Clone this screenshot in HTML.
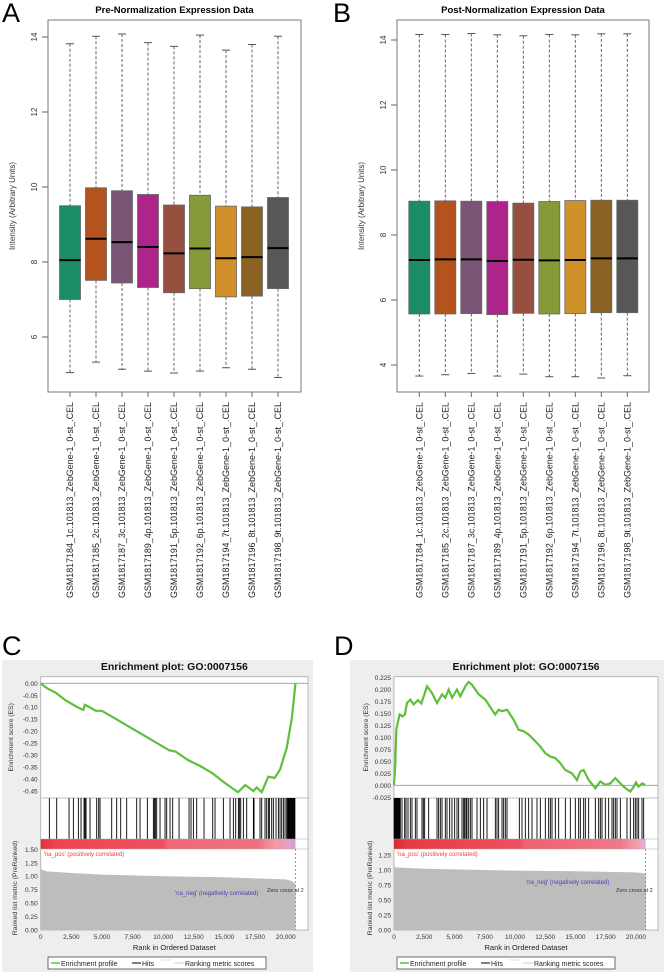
<!DOCTYPE html>
<html><head><meta charset="utf-8">
<style>
html,body{margin:0;padding:0;background:#fff;}
svg{display:block;font-family:"Liberation Sans",sans-serif;}
</style></head>
<body>
<svg id="fig" width="664" height="972" viewBox="0 0 664 972" xmlns="http://www.w3.org/2000/svg"></svg>
<script>
// ---------- DATA ----------
const samples = ["GSM1817184_1c","GSM1817185_2c","GSM1817187_3c","GSM1817189_4p","GSM1817191_5p","GSM1817192_6p","GSM1817194_7t","GSM1817196_8t","GSM1817198_9t"];
const boxColors = ["#1a8c68","#b5531f","#7a5575","#ad248a","#975040","#879a3a","#d0912c","#8a6224","#575757"];
const preLow  = [5.05,5.33,5.14,5.09,5.04,5.09,5.18,5.14,4.92];
const preQ1   = [7.00,7.51,7.44,7.32,7.18,7.29,7.07,7.09,7.29];
const preMed  = [8.05,8.62,8.53,8.40,8.23,8.36,8.10,8.13,8.37];
const preQ3   = [9.50,9.98,9.90,9.80,9.52,9.78,9.49,9.47,9.72];
const preHigh = [13.82,14.02,14.08,13.85,13.75,14.05,13.65,13.80,14.02];
const postLow  = [3.66,3.70,3.74,3.66,3.72,3.64,3.64,3.60,3.67];
const postQ1   = [5.57,5.57,5.58,5.55,5.59,5.57,5.58,5.61,5.61];
const postMed  = [7.23,7.25,7.25,7.20,7.24,7.22,7.23,7.28,7.28];
const postQ3   = [9.04,9.05,9.04,9.03,8.98,9.03,9.06,9.07,9.07];
const postHigh = [14.17,14.17,14.20,14.16,14.13,14.17,14.16,14.19,14.19];
const preTicks = [6,8,10,12,14];
const postTicks = [4,6,8,10,12,14];

const rankTicks = [0,2500,5000,7500,10000,12500,15000,17500,20000];
const cRanks = [0,500,1250,2000,3000,3480,3600,4000,4500,5000,5500,6500,7500,8500,9500,10500,11000,12000,13000,14000,15000,16100,16700,17360,17630,18040,18580,19100,19540,20080,20490,20800];
const cES    = [0,-0.02,-0.04,-0.07,-0.10,-0.111,-0.09,-0.10,-0.115,-0.115,-0.13,-0.16,-0.19,-0.22,-0.25,-0.28,-0.285,-0.32,-0.345,-0.375,-0.415,-0.455,-0.425,-0.45,-0.435,-0.455,-0.39,-0.395,-0.36,-0.27,-0.15,0];
const cHits = [707,1306,2313,2667,3075,3293,3537,3619,3701,4027,4571,4735,4844,5796,6204,6531,7020,7837,8109,8707,9197,9279,9361,9469,9741,10150,10286,10558,10776,11293,12109,12272,12463,12735,13333,14041,14231,14912,15456,15728,15918,16136,16218,16327,16544,16816,17361,17415,17905,18041,18313,18449,18585,18667,18857,18993,19211,19401,19537,19673,19810,19946,20082,20150,20200,20250,20300,20350,20400,20450,20500,20550,20600,20650,20700,20750];
const cMetRanks = [0,100,500,2500,5000,10000,15000,20000,20500,20800];
const cMetVals  = [1.17,1.12,1.09,1.06,1.03,1.0,0.98,0.94,0.91,0.85];
const cESTicks = [0,-0.05,-0.10,-0.15,-0.20,-0.25,-0.30,-0.35,-0.40,-0.45];
const cMetTicks = [0,0.25,0.5,0.75,1.0,1.25,1.5];

const dRanks = [0,110,190,300,470,700,900,1070,1350,1625,1980,2260,2730,3140,3550,3970,4240,4520,4800,5200,5480,5900,6170,6450,7000,7550,8100,8370,8650,8930,9340,9890,10300,10720,11130,11680,12090,12510,12920,13330,13750,14160,14710,15120,15400,15670,16090,16640,17050,17470,17880,18290,18710,19120,19530,19810,20000,20220,20500,20770];
const dES    = [0,0.046,0.116,0.13,0.148,0.144,0.148,0.172,0.179,0.169,0.178,0.171,0.207,0.193,0.172,0.19,0.183,0.2,0.183,0.2,0.186,0.207,0.216,0.21,0.19,0.179,0.158,0.148,0.158,0.155,0.158,0.137,0.116,0.113,0.106,0.092,0.081,0.067,0.06,0.057,0.046,0.032,0.025,0.011,0.029,0.032,0.011,-0.006,0.008,0.001,0.004,0.015,0.004,-0.006,-0.013,-0.003,0.006,-0.003,0.004,0.001];
const dHits = [10,50,90,130,170,210,250,290,330,370,410,450,490,520,661,882,992,1157,1350,1488,1763,1901,2314,2424,2534,2865,3554,3691,3829,3967,4242,4380,4601,4793,5014,5207,5344,5620,5758,5840,5950,6033,6171,6309,6446,6860,7135,7410,7686,8375,8512,8650,8926,9063,9201,9339,10358,10579,10854,11129,11405,11818,12094,12507,12782,12920,13058,13333,13609,14160,14573,14986,15262,15399,15675,15813,16088,16639,16915,17052,17190,17466,17741,18017,18154,18292,18430,18705,19256,19532,19807,19945,20083,20220,20496,20634];
const dMetRanks = [0,100,500,2500,5000,10000,15000,20000,20800];
const dMetVals  = [1.05,1.045,1.04,1.02,1.01,0.99,0.98,0.96,0.94];
const dESTicks = [-0.025,0,0.025,0.05,0.075,0.1,0.125,0.15,0.175,0.2,0.225];
const dMetTicks = [0,0.25,0.5,0.75,1.0,1.25];

// ---------- HELPERS ----------
const NS="http://www.w3.org/2000/svg";
const svg=document.getElementById('fig');
function mk(tag,attrs,parent,text){const e=document.createElementNS(NS,tag);for(const k in attrs)e.setAttribute(k,attrs[k]);if(text!==undefined)e.textContent=text;(parent||svg).appendChild(e);return e;}

// panel letters
[["A",2,22],["B",333,22],["C",2,655],["D",334,655]].forEach(p=>{
  const t=mk('text',{x:p[1],y:p[2],'font-size':27,fill:'#000'},svg,p[0]);
  
  
});

function boxplot(cfg){
  const g=mk('g',{});
  
  
  const y=v=>cfg.y0-(v-cfg.v0)*cfg.k;
  const fr=mk('rect',{x:cfg.L,y:cfg.T,width:cfg.R-cfg.L,height:cfg.B-cfg.T,fill:'none',stroke:'#777','stroke-width':1},g);
  
  const tt=mk('text',{x:(cfg.L+cfg.R)/2,y:13,'text-anchor':'middle','font-size':9.5,'font-weight':'bold'},g,cfg.title);
  
  const yl=mk('text',{x:0,y:0,'text-anchor':'middle','font-size':8,fill:'#333',transform:`translate(${cfg.L-33},${cfg.labY}) rotate(-90)`},g,'Intensity (Arbitrary Units)');
  
  cfg.ticks.forEach(v=>{
    mk('line',{x1:cfg.L-6,x2:cfg.L,y1:y(v),y2:y(v),stroke:'#666'},g);
    const tl=mk('text',{x:0,y:0,'text-anchor':'middle','font-size':8,fill:'#333',transform:`translate(${cfg.L-11},${y(v)}) rotate(-90)`},g,String(v));
    
  });
  samples.forEach((s,i)=>{
    const cx=cfg.c0+i*cfg.dx, w=21;
    const bg=mk('g',{},g);
    
    mk('line',{x1:cx,x2:cx,y1:y(cfg.high[i]),y2:y(cfg.q3[i]),stroke:'#555','stroke-dasharray':'3,2','stroke-width':0.9},bg);
    mk('line',{x1:cx,x2:cx,y1:y(cfg.q1[i]),y2:y(cfg.low[i]),stroke:'#555','stroke-dasharray':'3,2','stroke-width':0.9},bg);
    mk('line',{x1:cx-4,x2:cx+4,y1:y(cfg.high[i]),y2:y(cfg.high[i]),stroke:'#555'},bg);
    mk('line',{x1:cx-4,x2:cx+4,y1:y(cfg.low[i]),y2:y(cfg.low[i]),stroke:'#555'},bg);
    mk('rect',{x:cx-w/2,y:y(cfg.q3[i]),width:w,height:y(cfg.q1[i])-y(cfg.q3[i]),fill:boxColors[i],stroke:'#666','stroke-width':0.8},bg);
    mk('line',{x1:cx-w/2,x2:cx+w/2,y1:y(cfg.med[i]),y2:y(cfg.med[i]),stroke:'#000','stroke-width':2},bg);
    mk('line',{x1:cx,x2:cx,y1:cfg.B,y2:cfg.B+5,stroke:'#666'},g);
    const lab=mk('text',{x:0,y:0,'text-anchor':'end','font-size':9,fill:'#222',textLength:196,lengthAdjust:'spacingAndGlyphs',transform:`translate(${cx+3},${cfg.B+10}) rotate(-90)`},g,s+'.101813_ZebGene-1_0-st_.CEL');
    
  });
}
boxplot({name:'boxplot-pre-normalization',title:'Pre-Normalization Expression Data',L:48,R:301,T:20,B:392,y0:262,v0:8,k:37.5,c0:70,dx:26,labY:206,ticks:preTicks,low:preLow,q1:preQ1,med:preMed,q3:preQ3,high:preHigh});
boxplot({name:'boxplot-post-normalization',title:'Post-Normalization Expression Data',L:397,R:649,T:20,B:392,y0:40,v0:14,k:32.5,c0:419.3,dx:26,labY:206,ticks:postTicks,low:postLow,q1:postQ1,med:postMed,q3:postQ3,high:postHigh});

function gsea(c){
  const g=mk('g',{});
  
  mk('rect',{x:c.bgL,y:660,width:c.bgR-c.bgL,height:312,fill:'#eeeeee'},g);
  const X=r=>c.L+r/20000*(c.x20-c.L);
  const Y=v=>c.esY0-(v-c.esV0)*c.esK;
  const M=v=>930-v*c.mK;
  const T1=676.7,T2=798,T3=839,T4=849,T5=930;
  const t=mk('text',{x:(c.L+c.R)/2,y:670,'text-anchor':'middle','font-size':10.5,'font-weight':'bold',fill:'#111'},g,'Enrichment plot: GO:0007156');
  
  mk('rect',{x:c.L,y:T1,width:c.R-c.L,height:T5-T1,fill:'#fff',stroke:'#aaa','stroke-width':0.8},g);
  mk('line',{x1:c.L,x2:c.R,y1:T2,y2:T2,stroke:'#aaa','stroke-width':0.8},g);
  // zero line
  mk('line',{x1:c.L,x2:c.R,y1:Y(0),y2:Y(0),stroke:'#999','stroke-width':0.8},g);
  c.esTicks.forEach(v=>{
    const tl=mk('text',{x:c.L-3,y:Y(v)+2.5,'text-anchor':'end','font-size':6.5,fill:'#333'},g,v.toFixed(c.dec));
    
  });
  const es=mk('polyline',{points:c.ranks.map((r,i)=>X(r)+','+Y(c.es[i])).join(' '),fill:'none',stroke:'#5fbf3a','stroke-width':2.2},g);
  
  const hg=mk('g',{},g);
  
  c.hits.forEach(h=>{const hl=mk('line',{x1:X(h),x2:X(h),y1:T2,y2:T3,stroke:'#000','stroke-width':0.9},hg);
    });
  const gid='grad'+c.name;
  const df=mk('defs',{},g);const lg=mk('linearGradient',{id:gid,x1:0,x2:1,y1:0,y2:0},df);
  c.grad.forEach(s=>mk('stop',{offset:s[0],'stop-color':s[1]},lg));
  const rb=mk('rect',{x:c.L,y:T3,width:X(20800)-c.L,height:T4-T3,fill:`url(#${gid})`},g);
  
  mk('line',{x1:c.L,x2:c.R,y1:T3,y2:T3,stroke:'#aaa','stroke-width':0.6},g);
  mk('line',{x1:c.L,x2:c.R,y1:T4,y2:T4,stroke:'#aaa','stroke-width':0.6},g);
  const pts=[c.L+','+M(0)].concat(c.mRanks.map((r,i)=>X(r)+','+M(c.mVals[i]))).concat([X(20800)+','+M(0)]);
  const ar=mk('polygon',{points:pts.join(' '),fill:'#bdbdbd'},g);
  
  mk('line',{x1:X(20800),x2:X(20800),y1:T4,y2:T5,stroke:'#777','stroke-dasharray':'2,2','stroke-width':0.7},g);
  c.mTicks.forEach(v=>{
    const tl=mk('text',{x:c.L-3,y:M(v)+2.5,'text-anchor':'end','font-size':6.5,fill:'#333'},g,v.toFixed(2));
    
  });
  rankTicks.forEach(r=>{
    const tl=mk('text',{x:X(r),y:939,'text-anchor':'middle','font-size':6.5,fill:'#333'},g,r.toLocaleString('en-US'));
    
  });
  const xt=mk('text',{x:(c.L+c.R)/2,y:950,'text-anchor':'middle','font-size':7.5,fill:'#222'},g,'Rank in Ordered Dataset');
  
  const y1=mk('text',{x:0,y:0,'text-anchor':'middle','font-size':6.8,fill:'#333',transform:`translate(${c.yl},${(T1+T2)/2}) rotate(-90)`},g,'Enrichment score (ES)');
  
  const y2=mk('text',{x:0,y:0,'text-anchor':'middle','font-size':6.8,fill:'#333',transform:`translate(${c.yl+4},${888}) rotate(-90)`},g,'Ranked list metric (PreRanked)');
  
  const p=mk('text',{x:c.L+3,y:856,'font-size':6,fill:'#e8404a'},g,"'na_pos' (positively correlated)");
  
  const n=mk('text',{x:c.negX,y:c.negY,'font-size':6,fill:'#4545b0'},g,"'na_neg' (negatively correlated)");
  
  const z=mk('text',{x:c.zX,y:892,'font-size':5.5,fill:'#333'},g,'Zero cross at 2');
  
  // legend
  const lgG=mk('g',{},g);
  
  const lx=c.legX;
  mk('rect',{x:lx,y:957,width:218,height:12,fill:'#fff',stroke:'#333','stroke-width':0.7},lgG);
  mk('line',{x1:lx+3,x2:lx+12,y1:963,y2:963,stroke:'#5fbf3a','stroke-width':1.5},lgG);
  const e1=mk('text',{x:lx+13,y:966,'font-size':7,fill:'#222'},lgG,'Enrichment profile');
  
  mk('line',{x1:lx+84,x2:lx+93,y1:963,y2:963,stroke:'#000','stroke-width':1},lgG);
  const e2=mk('text',{x:lx+94,y:966,'font-size':7,fill:'#222'},lgG,'Hits');
  
  mk('line',{x1:lx+113,x2:lx+123,y1:960,y2:960,stroke:'#ddd','stroke-width':1},lgG);
  mk('line',{x1:lx+126,x2:lx+136,y1:963,y2:963,stroke:'#ccc','stroke-width':1},lgG);
  const e3=mk('text',{x:lx+137,y:966,'font-size':7,fill:'#222'},lgG,'Ranking metric scores');
  
}
gsea({name:'gsea-plot-c',bgL:2,bgR:313,L:40.7,R:308,x20:285.7,esY0:683.3,esV0:0,esK:239.4,dec:2,mK:53.8,
  esTicks:cESTicks,mTicks:cMetTicks,ranks:cRanks,es:cES,hits:cHits,mRanks:cMetRanks,mVals:cMetVals,
  grad:[[0,'#e8303a'],[0.06,'#ee4450'],[0.48,'#ee5060'],[0.5,'#f06878'],[0.85,'#f07080'],[0.92,'#f29aa0'],[0.97,'#e8a0c0'],[1,'#c8a0e0']],
  yl:13,negX:175,negY:895,zX:267,legX:48});
gsea({name:'gsea-plot-d',bgL:350,bgR:664,L:394,R:658,x20:636,esY0:785.3,esV0:0,esK:478.4,dec:3,mK:60,
  esTicks:dESTicks,mTicks:dMetTicks,ranks:dRanks,es:dES,hits:dHits,mRanks:dMetRanks,mVals:dMetVals,
  grad:[[0,'#d82830'],[0.05,'#e83a44'],[0.5,'#ee5060'],[0.52,'#f06070'],[0.9,'#f07888'],[0.97,'#f2a0b0'],[1,'#e0b0e0']],
  yl:368,negX:526,negY:884,zX:616,legX:397});
</script>
</body></html>
